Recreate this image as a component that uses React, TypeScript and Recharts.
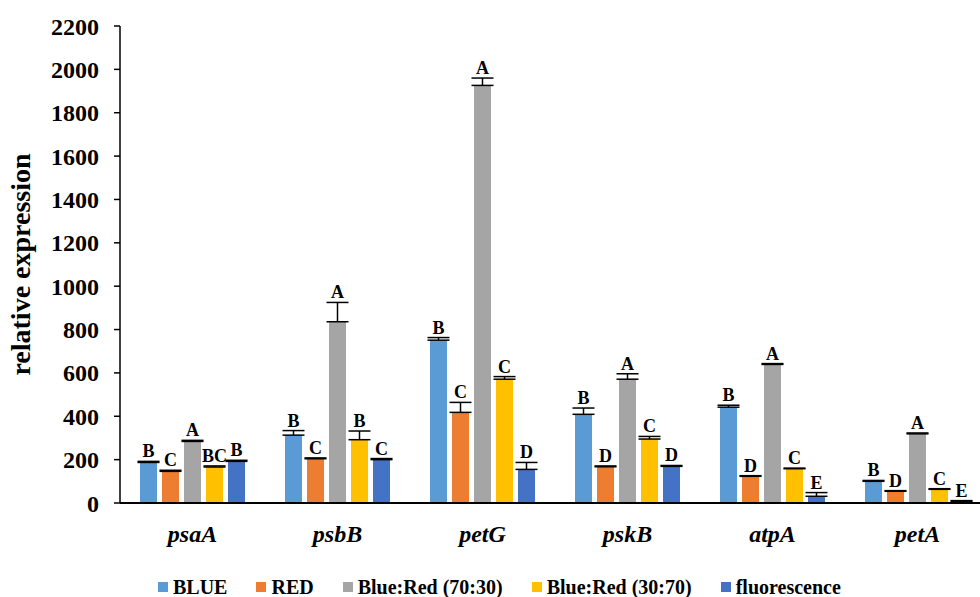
import { BarChart, Bar, XAxis, YAxis, ErrorBar, LabelList, Label } from 'recharts'

const genes = ['psaA', 'psbB', 'petG', 'pskB', 'atpA', 'petA']

const blueValues = [187, 313, 751, 409, 442, 100]
const redValues = [146, 204, 418, 167, 123, 54]
const ratio7030Values = [284, 836, 1926, 571, 639, 319]
const ratio3070Values = [166, 292, 571, 295, 158, 63]
const fluorescenceValues = [192, 200, 155, 169, 31, 8]

const blueErrors = [5, 21, 12, 29, 9, 4]
const redErrors = [5, 4, 46, 4, 3, 3]
const ratio7030Errors = [5, 89, 34, 25, 4, 4]
const ratio3070Errors = [5, 40, 12, 12, 3, 3]
const fluorescenceErrors = [5, 5, 32, 4, 17, 3]

const blueLetters = ['B', 'B', 'B', 'B', 'B', 'B']
const redLetters = ['C', 'C', 'C', 'D', 'D', 'D']
const ratio7030Letters = ['A', 'A', 'A', 'A', 'A', 'A']
const ratio3070Letters = ['BC', 'B', 'C', 'C', 'C', 'C']
const fluorescenceLetters = ['B', 'C', 'D', 'D', 'E', 'E']

const yTicks = [0, 200, 400, 600, 800, 1000, 1200, 1400, 1600, 1800, 2000, 2200]

const FONT = 'Liberation Serif, DejaVu Serif, serif'

const SERIES = [
  { key: 'blue', name: 'BLUE', color: '#5B9BD5', values: blueValues, errors: blueErrors, letters: blueLetters },
  { key: 'red', name: 'RED', color: '#ED7D31', values: redValues, errors: redErrors, letters: redLetters },
  { key: 'br7030', name: 'Blue:Red (70:30)', color: '#A5A5A5', values: ratio7030Values, errors: ratio7030Errors, letters: ratio7030Letters },
  { key: 'br3070', name: 'Blue:Red (30:70)', color: '#FFC000', values: ratio3070Values, errors: ratio3070Errors, letters: ratio3070Letters },
  { key: 'fluor', name: 'fluorescence', color: '#4472C4', values: fluorescenceValues, errors: fluorescenceErrors, letters: fluorescenceLetters },
]

const data = genes.map((gene, i) => {
  const row: Record<string, any> = { gene }
  SERIES.forEach((s) => {
    row[s.key] = s.values[i]
    row[s.key + 'Err'] = [0, s.errors[i]]
    row[s.key + 'Letter'] = s.letters[i]
  })
  return row
})

// letter sits just above the error bar cap
const makeLetter = (values: number[], errors: number[]) => (props: any) => {
  const { x, y, width, height, value, index } = props
  const pxPerUnit = height / values[index]
  const top = y - errors[index] * pxPerUnit
  return (
    <text
      x={x + width / 2}
      y={top - 4}
      textAnchor="middle"
      style={{ fontFamily: FONT, fontWeight: 'bold', fontSize: 18 }}
      fill="#000"
    >
      {value}
    </text>
  )
}

const GeneTick = (props: any) => {
  const { x, y, payload } = props
  return (
    <text
      x={x}
      y={y + 31}
      textAnchor="middle"
      style={{ fontFamily: FONT, fontWeight: 'bold', fontStyle: 'italic', fontSize: 24 }}
      fill="#000"
    >
      {payload.value}
    </text>
  )
}

export default function App() {
  return (
    <div
      style={{
        position: 'absolute',
        left: 0,
        top: 0,
        width: 980,
        height: 597,
        overflow: 'hidden',
        background: '#fff',
      }}
    >
      <BarChart
        width={1010}
        height={597}
        data={data}
        margin={{ top: 26, right: 20, left: 0, bottom: 54 }}
        barSize={17}
        barGap={5}
      >
        <XAxis
          dataKey="gene"
          height={40}
          axisLine={{ stroke: '#000', strokeWidth: 2 }}
          tickLine={false}
          tick={<GeneTick />}
          interval={0}
        />
        <YAxis
          width={120}
          domain={[0, 2200]}
          ticks={yTicks}
          interval={0}
          axisLine={{ stroke: '#000', strokeWidth: 1.5 }}
          tickLine={{ stroke: '#000', strokeWidth: 1.5 }}
          tickSize={6}
          tickMargin={15}
          tick={{ style: { fontFamily: FONT, fontWeight: 'bold', fontSize: 24 }, fill: '#000' }}
        >
          <Label
            content={({ viewBox }: any) => {
              const cx = 30
              const cy = viewBox.y + viewBox.height / 2
              return (
                <text
                  x={cx}
                  y={cy}
                  transform={`rotate(-90, ${cx}, ${cy})`}
                  textAnchor="middle"
                  style={{ fontFamily: FONT, fontWeight: 'bold', fontSize: 28 }}
                  fill="#000"
                >
                  relative expression
                </text>
              )
            }}
          />
        </YAxis>
        {SERIES.map((s) => (
          <Bar key={s.key} dataKey={s.key} name={s.name} fill={s.color} isAnimationActive={false}>
            <ErrorBar dataKey={s.key + 'Err'} width={11} strokeWidth={1.5} stroke="#000" direction="y" />
            <LabelList dataKey={s.key + 'Letter'} content={makeLetter(s.values, s.errors)} />
          </Bar>
        ))}
      </BarChart>
      <div
        style={{
          position: 'absolute',
          left: 158,
          top: 577,
          height: 20,
          display: 'flex',
          alignItems: 'center',
          fontFamily: FONT,
          fontWeight: 'bold',
          fontSize: 20,
          lineHeight: '20px',
          color: '#000',
          whiteSpace: 'nowrap',
        }}
      >
        {SERIES.map((s) => (
          <div key={s.key} style={{ display: 'flex', alignItems: 'center', marginRight: 29 }}>
            <span style={{ width: 10, height: 10, background: s.color, marginRight: 5, display: 'inline-block' }} />
            <span>{s.name}</span>
          </div>
        ))}
      </div>
    </div>
  )
}
